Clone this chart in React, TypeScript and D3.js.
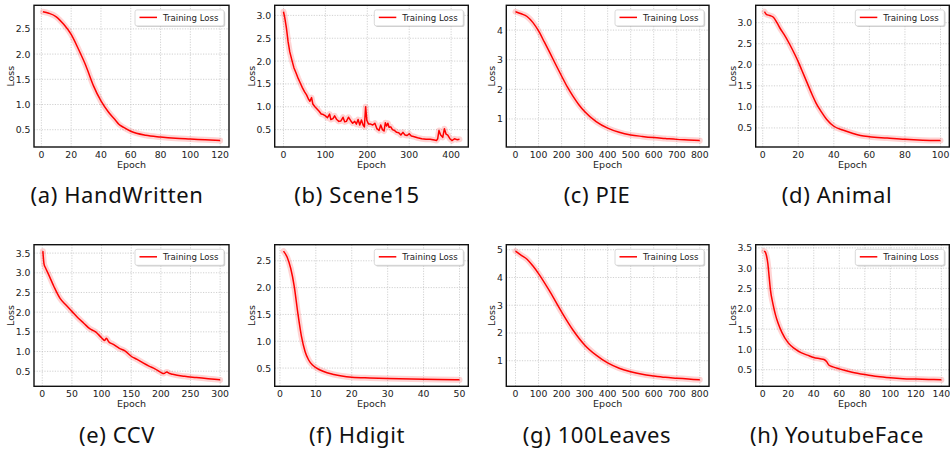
import * as d3 from 'd3'
import React, { useEffect, useRef } from 'react'

// values
const handwrittenEpochs = [1, 5, 10, 15, 20, 25, 30, 35, 40, 45, 50, 52, 55, 60, 70, 80, 90, 100, 110, 120]
const handwrittenLoss = [2.84, 2.81, 2.74, 2.59, 2.39, 2.09, 1.76, 1.37, 1.07, 0.85, 0.68, 0.61, 0.55, 0.47, 0.39, 0.355, 0.33, 0.315, 0.3, 0.285]

const scene15Epochs = [0, 3, 7, 11, 15, 20, 25, 30, 35, 40, 45, 50, 55, 60, 63, 67, 70, 75, 80, 85, 90, 95, 100, 105, 110, 113, 118, 122, 127, 132, 137, 142, 146, 150, 155, 160, 165, 170, 174, 178, 182, 186, 190, 193, 196, 199, 203, 208, 213, 218, 223, 228, 232, 236, 240, 243, 246, 249, 252, 256, 260, 265, 270, 275, 280, 285, 290, 295, 300, 305, 310, 320, 330, 340, 350, 360, 365, 368, 371, 375, 380, 384, 388, 392, 397, 402, 408, 414, 420]
const scene15Loss = [3.08, 2.95, 2.72, 2.42, 2.2, 2.02, 1.85, 1.74, 1.62, 1.52, 1.42, 1.33, 1.26, 1.16, 1.12, 1.2, 1.06, 1.0, 0.95, 0.9, 0.84, 0.83, 0.8, 0.76, 0.84, 0.72, 0.74, 0.8, 0.72, 0.68, 0.69, 0.77, 0.67, 0.68, 0.77, 0.7, 0.64, 0.68, 0.62, 0.72, 0.6, 0.71, 0.6, 0.56, 1.0, 0.7, 0.62, 0.62, 0.6, 0.64, 0.52, 0.48, 0.6, 0.5, 0.47, 0.65, 0.58, 0.64, 0.55, 0.56, 0.5, 0.48, 0.44, 0.43, 0.38, 0.44, 0.38, 0.37, 0.41, 0.36, 0.35, 0.32, 0.3, 0.29, 0.29, 0.27, 0.26, 0.3, 0.48, 0.38, 0.33, 0.52, 0.4, 0.38, 0.3, 0.26, 0.3, 0.28, 0.29]

const pieEpochs = [0, 25, 50, 75, 100, 125, 150, 175, 200, 225, 250, 275, 300, 350, 400, 450, 500, 550, 600, 650, 700, 750, 800]
const pieLoss = [4.62, 4.55, 4.46, 4.26, 3.97, 3.6, 3.22, 2.83, 2.45, 2.08, 1.76, 1.48, 1.25, 0.91, 0.69, 0.55, 0.46, 0.41, 0.37, 0.34, 0.31, 0.29, 0.27]

const animalEpochs = [1, 2, 4, 6, 8, 10, 12, 15, 18, 20, 22, 25, 28, 30, 33, 36, 40, 45, 50, 55, 60, 70, 80, 90, 100]
const animalLoss = [3.26, 3.2, 3.17, 3.13, 3.0, 2.85, 2.72, 2.5, 2.25, 2.07, 1.87, 1.57, 1.27, 1.09, 0.88, 0.7, 0.54, 0.45, 0.38, 0.32, 0.29, 0.26, 0.23, 0.21, 0.2]

const ccvEpochs = [1, 3, 5, 10, 20, 30, 40, 50, 60, 70, 80, 90, 100, 105, 108, 112, 120, 130, 140, 150, 160, 170, 180, 190, 200, 205, 210, 215, 220, 240, 260, 280, 300]
const ccvLoss = [3.55, 3.22, 3.14, 2.98, 2.64, 2.35, 2.18, 2.02, 1.86, 1.72, 1.58, 1.5, 1.35, 1.28, 1.34, 1.25, 1.18, 1.08, 1.01, 0.88, 0.8, 0.71, 0.63, 0.56, 0.47, 0.44, 0.48, 0.44, 0.42, 0.37, 0.34, 0.31, 0.28]

const hdigitEpochs = [1, 2, 3, 4, 5, 6, 7, 8, 9, 10, 12, 15, 20, 25, 30, 40, 50]
const hdigitLoss = [2.68, 2.57, 2.36, 2.02, 1.52, 1.09, 0.81, 0.65, 0.56, 0.51, 0.44, 0.38, 0.33, 0.315, 0.305, 0.29, 0.28]

const leavesEpochs = [0, 25, 50, 75, 100, 150, 200, 250, 300, 350, 400, 450, 500, 550, 600, 650, 700, 750, 800]
const leavesLoss = [4.95, 4.8, 4.66, 4.42, 4.14, 3.48, 2.76, 2.1, 1.57, 1.2, 0.92, 0.73, 0.6, 0.51, 0.45, 0.4, 0.37, 0.34, 0.31]

const youtubeEpochs = [1, 2, 3, 4, 5, 6, 8, 10, 12, 15, 20, 25, 30, 35, 40, 45, 48, 50, 52, 55, 60, 70, 80, 90, 100, 110, 120, 130, 140]
const youtubeLoss = [3.42, 3.4, 3.3, 3.12, 2.8, 2.48, 2.12, 1.85, 1.65, 1.42, 1.16, 1.02, 0.92, 0.86, 0.8, 0.77, 0.75, 0.7, 0.61, 0.57, 0.52, 0.44, 0.38, 0.33, 0.3, 0.28, 0.27, 0.26, 0.25]

const x120Ticks = [0, 20, 40, 60, 80, 100, 120]
const x400Ticks = [0, 100, 200, 300, 400]
const x800Ticks = [0, 100, 200, 300, 400, 500, 600, 700, 800]
const x100Ticks = [0, 20, 40, 60, 80, 100]
const x300Ticks = [0, 50, 100, 150, 200, 250, 300]
const x50Ticks = [0, 10, 20, 30, 40, 50]
const x140Ticks = [0, 20, 40, 60, 80, 100, 120, 140]
const y25Ticks = [0.5, 1.0, 1.5, 2.0, 2.5]
const y30Ticks = [0.5, 1.0, 1.5, 2.0, 2.5, 3.0]
const y35Ticks = [0.5, 1.0, 1.5, 2.0, 2.5, 3.0, 3.5]
const y4Ticks = [1, 2, 3, 4]
const y5Ticks = [1, 2, 3, 4, 5]

const captions = ['(a) HandWritten', '(b) Scene15', '(c) PIE', '(d) Animal', '(e) CCV', '(f) Hdigit', '(g) 100Leaves', '(h) YoutubeFace']

const panels = [
  { epochs: handwrittenEpochs, loss: handwrittenLoss, xTicks: x120Ticks, yTicks: y25Ticks, fmt: '.1f', smooth: true },
  { epochs: scene15Epochs, loss: scene15Loss, xTicks: x400Ticks, yTicks: y30Ticks, fmt: '.1f', smooth: false },
  { epochs: pieEpochs, loss: pieLoss, xTicks: x800Ticks, yTicks: y4Ticks, fmt: 'd', smooth: true },
  { epochs: animalEpochs, loss: animalLoss, xTicks: x100Ticks, yTicks: y30Ticks, fmt: '.1f', smooth: true },
  { epochs: ccvEpochs, loss: ccvLoss, xTicks: x300Ticks, yTicks: y35Ticks, fmt: '.1f', smooth: true },
  { epochs: hdigitEpochs, loss: hdigitLoss, xTicks: x50Ticks, yTicks: y25Ticks, fmt: '.1f', smooth: true },
  { epochs: leavesEpochs, loss: leavesLoss, xTicks: x800Ticks, yTicks: y5Ticks, fmt: 'd', smooth: true },
  { epochs: youtubeEpochs, loss: youtubeLoss, xTicks: x140Ticks, yTicks: y35Ticks, fmt: '.1f', smooth: true, xDomain: [-5.5, 146.2] }
]

const colLeft = [34, 274.7, 506.3, 755.7]
const colRight = [229, 468.3, 709, 949.3]
const rowTop = [5.3, 244.7]
const rowBottom = [147, 386.3]
const TICK_FONT = 'DejaVu Sans, sans-serif'

function padded (ext: number[]) {
  const m = (ext[1] - ext[0]) * 0.05
  return [ext[0] - m, ext[1] + m]
}

export default function App () {
  const ref = useRef<SVGSVGElement>(null)

  useEffect(() => {
    const svg = d3.select(ref.current)
    svg.selectAll('*').remove()
    svg.append('rect').attr('width', 950).attr('height', 450).attr('fill', '#fff')

    panels.forEach((p: any, i) => {
      const col = i % 4; const row = Math.floor(i / 4)
      const left = colLeft[col]; const right = colRight[col]
      const top = rowTop[row]; const bottom = rowBottom[row]
      const x = d3.scaleLinear().domain(p.xDomain || padded(d3.extent(p.epochs) as number[])).range([left, right])
      const y = d3.scaleLinear().domain(padded(d3.extent(p.loss) as number[])).range([bottom, top])
      const pts: [number, number][] = p.epochs.map((e: number, k: number) => [e, p.loss[k]])
      const g = svg.append('g')

      g.append('clipPath').attr('id', 'clip' + i)
        .append('rect').attr('x', left).attr('y', top).attr('width', right - left).attr('height', bottom - top)

      // dotted grid
      g.selectAll('line.gx').data(p.xTicks).enter().append('line')
        .attr('x1', (d: any) => x(d)).attr('x2', (d: any) => x(d)).attr('y1', top).attr('y2', bottom)
        .attr('stroke', '#bdbdbd').attr('stroke-width', 0.7).attr('stroke-dasharray', '1.2,1.4')
      g.selectAll('line.gy').data(p.yTicks).enter().append('line')
        .attr('y1', (d: any) => y(d)).attr('y2', (d: any) => y(d)).attr('x1', left).attr('x2', right)
        .attr('stroke', '#bdbdbd').attr('stroke-width', 0.7).attr('stroke-dasharray', '1.2,1.4')

      const line = d3.line().x(d => x(d[0])).y(d => y(d[1]))
        .curve(p.smooth ? d3.curveMonotoneX : d3.curveLinear)
      const plot = g.append('g').attr('clip-path', `url(#clip${i})`)
      plot.append('path').attr('d', line(pts)).attr('fill', 'none')
        .attr('stroke', '#ff0000').attr('stroke-opacity', 0.17).attr('stroke-width', 6)
        .attr('stroke-linejoin', 'round').attr('stroke-linecap', 'round')
      plot.append('path').attr('d', line(pts)).attr('fill', 'none')
        .attr('stroke', '#ff0000').attr('stroke-width', 1.5).attr('stroke-linejoin', 'round')

      g.append('rect').attr('x', left).attr('y', top).attr('width', right - left).attr('height', bottom - top)
        .attr('fill', 'none').attr('stroke', '#111').attr('stroke-width', 1.4)

      // tick labels
      const fmt = d3.format(p.fmt)
      g.selectAll('text.xt').data(p.xTicks).enter().append('text')
        .attr('x', (d: any) => x(d)).attr('y', bottom + 10.5).attr('text-anchor', 'middle')
        .attr('font-family', TICK_FONT).attr('font-size', 9.3).attr('fill', '#222')
        .text((d: any) => d)
      g.selectAll('text.yt').data(p.yTicks).enter().append('text')
        .attr('x', left - 3.5).attr('y', (d: any) => y(d)).attr('text-anchor', 'end')
        .attr('dominant-baseline', 'central')
        .attr('font-family', TICK_FONT).attr('font-size', 9.3).attr('fill', '#222')
        .text((d: any) => fmt(d))

      const labW = p.fmt === 'd' ? 5.9 : 14.5
      g.append('text')
        .attr('transform', `translate(${left - 3.5 - labW - 5.5},${(top + bottom) / 2}) rotate(-90)`)
        .attr('text-anchor', 'middle').attr('dominant-baseline', 'central')
        .attr('font-family', TICK_FONT).attr('font-size', 9.5).attr('fill', '#222').text('Loss')
      g.append('text').attr('x', (left + right) / 2).attr('y', bottom + 20.5).attr('text-anchor', 'middle')
        .attr('font-family', TICK_FONT).attr('font-size', 9.5).attr('fill', '#222').text('Epoch')

      // legend
      const lx = right - 5 - 89; const ly = top + 4.6
      g.append('rect').attr('x', lx + 1.2).attr('y', ly + 1.2).attr('width', 89).attr('height', 16).attr('rx', 2)
        .attr('fill', '#999').attr('opacity', 0.45)
      g.append('rect').attr('x', lx).attr('y', ly).attr('width', 89).attr('height', 16).attr('rx', 2)
        .attr('fill', '#fff').attr('stroke', '#d0d0d0').attr('stroke-width', 0.8)
      g.append('line').attr('x1', lx + 4.5).attr('x2', lx + 22).attr('y1', ly + 7.5).attr('y2', ly + 7.5)
        .attr('stroke', '#ff0000').attr('stroke-width', 1.5)
      g.append('text').attr('x', lx + 28).attr('y', ly + 8).attr('dominant-baseline', 'central')
        .attr('font-family', TICK_FONT).attr('font-size', 8.6).attr('fill', '#222').text('Training Loss')

      // caption
      svg.append('text').attr('x', 117 + col * 240).attr('y', row === 0 ? 202.7 : 443)
        .attr('text-anchor', 'middle').attr('font-family', 'Noto Sans, sans-serif').attr('font-size', 22)
        .attr('letter-spacing', 0.6).attr('fill', '#111').text(captions[i])
    })
  }, [])

  return (
    <svg ref={ref} width={950} height={450} style={{ position: 'absolute', left: 0, top: 0 }} />
  )
}
